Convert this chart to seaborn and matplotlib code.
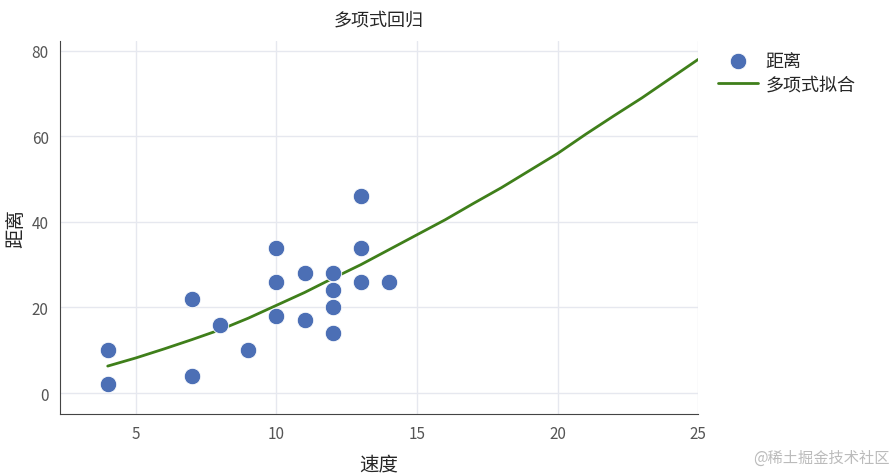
import matplotlib
matplotlib.use('Agg')
import matplotlib.pyplot as plt
import seaborn as sns
import pandas as pd

speed = [4, 4, 7, 7, 8, 9, 10, 10, 10, 11, 11, 12, 12, 12, 12, 13, 13, 13, 14]
dist = [2, 10, 4, 22, 16, 10, 18, 26, 34, 17, 28, 14, 20, 24, 28, 26, 34, 46, 26]

# fitted curve values
fit_x = [4, 5, 6, 7, 8, 9, 10, 11, 12, 13, 14, 15, 16, 17, 18, 19, 20, 21, 22, 23, 24, 25]
fit_y = [6.3, 8.2, 10.3, 12.5, 14.8, 17.5, 20.5, 23.5, 26.8, 30, 33.5, 37,
         40.5, 44.3, 48, 52, 56, 60.5, 64.8, 69, 73.5, 78]

sns.set_style('white')
plt.rcParams['font.family'] = ['Noto Sans CJK SC', 'DejaVu Sans']

fig = plt.figure(figsize=(8.94, 4.77), dpi=100)
ax = fig.add_axes([0.067, 0.13, 0.714, 0.782])

pts = pd.DataFrame({'速度': speed, '距离': dist})
sns.scatterplot(data=pts, x='速度', y='距离', ax=ax, s=140, color='#4c6fb5',
                edgecolor='white', linewidth=0.6, label='距离', zorder=3)
sns.lineplot(x=fit_x, y=fit_y, ax=ax, color='#3f7f1a', linewidth=2, label='多项式拟合', zorder=2)

ax.set_xlim(2.3, 25)
ax.set_ylim(-4.9, 82.3)
ax.set_xticks([5, 10, 15, 20, 25])
ax.set_yticks([0, 20, 40, 60, 80])
ax.grid(True, color='#e6e8ef', linewidth=1)
for s in ['top', 'right']:
    ax.spines[s].set_visible(False)
for s in ['left', 'bottom']:
    ax.spines[s].set_color('#444444')
ax.tick_params(colors='#555555', labelsize=11, length=0, pad=8)
ax.set_xlabel('速度', fontsize=14, labelpad=8)
ax.set_ylabel('距离', fontsize=14, labelpad=4)
ax.set_title('多项式回归', fontsize=13, pad=12)

ax.legend(loc='upper left', bbox_to_anchor=(1.02, 0.99), frameon=False, fontsize=13,
          handlelength=2.2, borderaxespad=0, labelspacing=0.3, handletextpad=0.4)

fig.text(0.995, 0.03, '@稀土掘金技术社区', ha='right', fontsize=11, color='#bbbbbb')

fig.savefig('out.png', dpi=100)
